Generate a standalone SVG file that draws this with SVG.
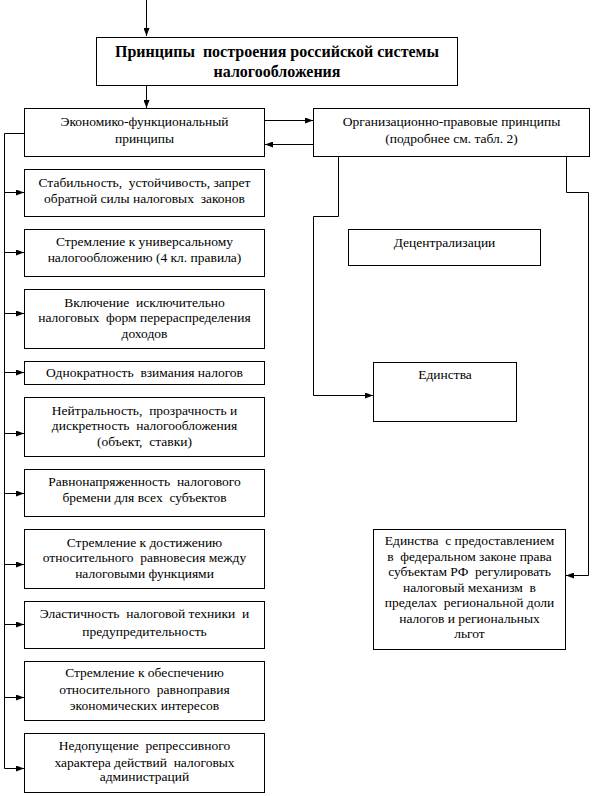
<svg xmlns="http://www.w3.org/2000/svg" width="592" height="796" viewBox="0 0 592 796">
<style>
rect{fill:#fff;stroke:#000;stroke-width:1}
text{font-family:'Liberation Serif','DejaVu Serif',serif;font-size:13.5px;fill:#000;text-anchor:middle;white-space:pre}
.t{font-weight:bold;font-size:16px}
.c{fill:none;stroke:#000;stroke-width:1}
</style>
<defs>
<marker id="ah" viewBox="0 0 8 6" refX="8" refY="3" markerWidth="8" markerHeight="6" markerUnits="userSpaceOnUse" orient="auto">
<path d="M0,0 L8,3 L0,6 Z" fill="#000"/>
</marker>
</defs>
<g id="connectors">
<path class="c" d="M146.5,0 V36" marker-end="url(#ah)"/>
<path class="c" d="M146.5,85 V108" marker-end="url(#ah)"/>
<path class="c" d="M264.5,120.5 H313" marker-end="url(#ah)"/>
<path class="c" d="M313.5,144.5 H265" marker-end="url(#ah)"/>
<path class="c" d="M24,133.5 H4.5 V768.5"/>
<path class="c" d="M4.5,192.5 H24" marker-end="url(#ah)"/>
<path class="c" d="M4.5,252.5 H24" marker-end="url(#ah)"/>
<path class="c" d="M4.5,313.5 H24" marker-end="url(#ah)"/>
<path class="c" d="M4.5,372.5 H24" marker-end="url(#ah)"/>
<path class="c" d="M4.5,433.5 H24" marker-end="url(#ah)"/>
<path class="c" d="M4.5,493.5 H24" marker-end="url(#ah)"/>
<path class="c" d="M4.5,564.5 H24" marker-end="url(#ah)"/>
<path class="c" d="M4.5,624.5 H24" marker-end="url(#ah)"/>
<path class="c" d="M4.5,697.5 H24" marker-end="url(#ah)"/>
<path class="c" d="M4.5,768.5 H24" marker-end="url(#ah)"/>
<path class="c" d="M338.5,157 V216.5 H313.5 V395.5 H373" marker-end="url(#ah)"/>
<path class="c" d="M566.5,157 V192.5 H588.5 V575.5 H566" marker-end="url(#ah)"/>
</g>
<g id="title">
<rect x="96.5" y="37.5" width="361" height="48"/>
<text class="t" x="277" y="57">Принципы  построения российской системы</text>
<text class="t" x="277" y="77">налогообложения</text>
</g>
<g id="econ">
<rect x="24.5" y="108.5" width="240" height="48"/>
<text x="144.5" y="126">Экономико-функциональный</text>
<text x="144.5" y="143">принципы</text>
</g>
<g id="org">
<rect x="313.5" y="108.5" width="276" height="48"/>
<text x="451.5" y="126">Организационно-правовые принципы</text>
<text x="451.5" y="143">(подробнее см. табл. 2)</text>
</g>
<g id="b1">
<rect x="24.5" y="169.5" width="240" height="47"/>
<text x="144.5" y="187">Стабильность,  устойчивость, запрет</text>
<text x="144.5" y="203">обратной силы налоговых  законов</text>
</g>
<g id="b2">
<rect x="24.5" y="229.5" width="240" height="47"/>
<text x="144.5" y="246">Стремление к универсальному</text>
<text x="144.5" y="262">налогообложению (4 кл. правила)</text>
</g>
<g id="b3">
<rect x="24.5" y="289.5" width="240" height="59"/>
<text x="144.5" y="307">Включение  исключительно</text>
<text x="144.5" y="322">налоговых  форм перераспределения</text>
<text x="144.5" y="338">доходов</text>
</g>
<g id="b4">
<rect x="24.5" y="361.5" width="240" height="23"/>
<text x="144.5" y="377">Однократность  взимания налогов</text>
</g>
<g id="b5">
<rect x="24.5" y="397.5" width="240" height="59"/>
<text x="144.5" y="415">Нейтральность,  прозрачность и</text>
<text x="144.5" y="430">дискретность  налогообложения</text>
<text x="144.5" y="446">(объект,  ставки)</text>
</g>
<g id="b6">
<rect x="24.5" y="469.5" width="240" height="47"/>
<text x="144.5" y="486">Равнонапряженность  налогового</text>
<text x="144.5" y="502">бремени для всех  субъектов</text>
</g>
<g id="b7">
<rect x="24.5" y="529.5" width="240" height="59"/>
<text x="144.5" y="547">Стремление к достижению</text>
<text x="144.5" y="562">относительного  равновесия между</text>
<text x="144.5" y="578">налоговыми функциями</text>
</g>
<g id="b8">
<rect x="24.5" y="601.5" width="240" height="47"/>
<text x="144.5" y="618">Эластичность  налоговой техники  и</text>
<text x="144.5" y="636">предупредительность</text>
</g>
<g id="b9">
<rect x="24.5" y="661.5" width="240" height="59"/>
<text x="144.5" y="677">Стремление к обеспечению</text>
<text x="144.5" y="694">относительного  равноправия</text>
<text x="144.5" y="710">экономических интересов</text>
</g>
<g id="b10">
<rect x="24.5" y="733.5" width="240" height="59"/>
<text x="144.5" y="750">Недопущение  репрессивного</text>
<text x="144.5" y="767">характера действий  налоговых</text>
<text x="144.5" y="781">администраций</text>
</g>
<g id="decentr">
<rect x="348.5" y="229.5" width="192" height="36"/>
<text x="444.5" y="247">Децентрализации</text>
</g>
<g id="unity">
<rect x="373.5" y="362.5" width="143" height="59"/>
<text x="445" y="379">Единства</text>
</g>
<g id="unity2">
<rect x="373.5" y="529.5" width="192" height="120"/>
<text x="469.5" y="545">Единства  с предоставлением</text>
<text x="469.5" y="560.5">в  федеральном законе права</text>
<text x="469.5" y="576">субъектам РФ  регулировать</text>
<text x="469.5" y="591.5">налоговый механизм  в</text>
<text x="469.5" y="607">пределах  региональной доли</text>
<text x="469.5" y="622.5">налогов и региональных</text>
<text x="469.5" y="638">льгот</text>
</g>
</svg>
